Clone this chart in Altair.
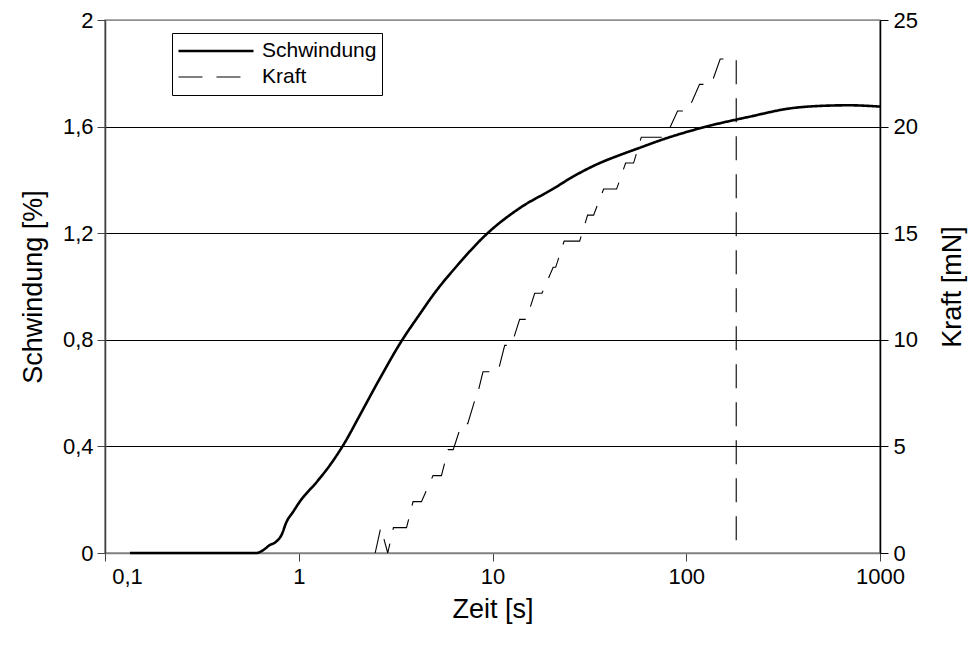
import altair as alt
import pandas as pd

# Schwindung [%] over Zeit [s]
schw_t = [0.1345, 0.606, 0.656, 0.710, 0.753, 0.815, 0.865, 0.936, 1.013, 1.25, 1.45, 1.73,
          2.07, 2.6, 3.39, 4.2, 4.96, 6.6, 9.12, 13.8, 20.5, 26.0, 35.7, 45.3, 56.3, 75.8,
          126.8, 212.1, 341, 506, 695, 1000]
schw_v = [0, 0, 0.011, 0.030, 0.039, 0.068, 0.117, 0.155, 0.193, 0.27, 0.33, 0.415,
          0.518, 0.65, 0.795, 0.895, 0.97, 1.08, 1.19, 1.294, 1.366, 1.412, 1.463, 1.493, 1.518, 1.552,
          1.60, 1.637, 1.668, 1.678, 1.68, 1.675]

# Kraft [mN] over Zeit [s]
kraft_t = [2.48, 2.65, 2.88, 3.08, 3.60, 3.89, 4.30, 4.93, 5.45, 5.90, 6.27, 6.94, 7.45,
           8.19, 8.29, 8.93, 10.68, 11.56, 12.52, 13.81, 14.96, 16.51, 18.00, 20.56, 21.18,
           23.43, 28.17, 30.97, 33.25, 37.46, 43.70, 48.64, 53.48, 58.61, 78.21, 90.19,
           101.9, 117.1, 134.6, 149.7, 181.1, 181.1]
kraft_v = [0, 1.19, 0, 1.19, 1.19, 2.41, 2.41, 3.63, 3.63, 4.85, 4.85, 6.07, 6.07,
           7.30, 7.30, 8.50, 8.50, 9.74, 9.74, 10.96, 10.96, 12.18, 12.18, 13.40, 13.40,
           14.63, 14.63, 15.85, 15.85, 17.07, 17.07, 18.29, 18.29, 19.50, 19.50, 20.73,
           20.73, 21.98, 21.98, 23.17, 23.17, 0]

series = ["Schwindung", "Kraft"]
x_ticks = [0.1, 1, 10, 100, 1000]
left_ticks = [0, 0.4, 0.8, 1.2, 1.6, 2]
right_ticks = [0, 5, 10, 15, 20, 25]

df_s = pd.DataFrame({"t": schw_t, "v": schw_v, "Serie": series[0], "i": range(len(schw_t))})
df_k = pd.DataFrame({"t": kraft_t, "v": kraft_v, "Serie": series[1], "i": range(len(kraft_t))})

FONT = "Liberation Sans"
TICK_FS = 22
TITLE_FS = 27

x_enc = alt.X("t:Q", scale=alt.Scale(type="log", domain=[0.1, 1000]),
              axis=alt.Axis(values=x_ticks, title="Zeit [s]", grid=False,
                            labelExpr="replace(toString(datum.value), '.', ',')",
                            labelOffset={"condition": {"test": "datum.value < 0.5", "value": 22}, "value": 0},
                            tickSize=8, labelPadding=5, labelFontSize=TICK_FS, titleFontSize=TITLE_FS,
                            titlePadding=9, domainColor="#808080", domainWidth=1.5,
                            tickColor="#404040", labelFlush=False))

dash = alt.StrokeDash("Serie:N", scale=alt.Scale(domain=series, range=[[1, 0], [24, 14]]),
                      legend=alt.Legend(title=None, orient="none", legendX=67, legendY=13,
                                        strokeColor="black", fillColor="white", padding=5,
                                        symbolType="stroke", symbolSize=5625, clipHeight=26,
                                        labelOffset=7, labelFontSize=21, labelFont=FONT,
                                        symbolStrokeColor="black", rowPadding=0, cornerRadius=0))
width_enc = alt.StrokeWidth("Serie:N", scale=alt.Scale(domain=series, range=[2.6, 1.1]),
                            legend=alt.Legend(title=None, orient="none", legendX=67, legendY=13))

schw = alt.Chart(df_s).mark_line(color="black", interpolate="monotone").encode(
    x=x_enc,
    y=alt.Y("v:Q", scale=alt.Scale(domain=[0, 2]),
            axis=alt.Axis(values=left_ticks, title="Schwindung [%]", orient="left",
                          labelExpr="replace(toString(datum.value), '.', ',')",
                          grid=True, gridColor={"condition": {"test": "datum.value >= 2", "value": "#909090"}, "value": "black"},
                          gridWidth=1, tickSize=8, labelPadding=4, labelFontSize=TICK_FS,
                          titleFontSize=TITLE_FS, titlePadding=15, domainColor="#404040",
                          domainWidth=1.5, tickColor="#404040")),
    order="i:Q",
    strokeDash=dash,
    strokeWidth=width_enc,
)

kraft = alt.Chart(df_k).mark_line(color="black").encode(
    x=x_enc,
    y=alt.Y("v:Q", scale=alt.Scale(domain=[0, 25]),
            axis=alt.Axis(values=right_ticks, title="Kraft [mN]", orient="right", grid=False,
                          tickSize=8, labelPadding=5, labelFontSize=TICK_FS, titleFontSize=TITLE_FS,
                          titlePadding=22, titleAngle=270, titleBaseline="top",
                          domainColor="black", domainWidth=1.5, tickColor="black")),
    order="i:Q",
    strokeDash=dash,
    strokeWidth=width_enc,
)

chart = alt.layer(schw, kraft).resolve_scale(y="independent").properties(
    width=775, height=533,
    autosize=alt.AutoSizeParams(type="none"),
    padding={"left": 105, "top": 20, "right": 98, "bottom": 95},
).configure(font=FONT).configure_view(stroke="#909090", strokeWidth=1.5).configure_axis(
    labelColor="black", titleColor="black", titleFontWeight="normal", labelFont=FONT, titleFont=FONT
)

chart.save("out.html", embed_options={"renderer": "svg", "actions": False})
